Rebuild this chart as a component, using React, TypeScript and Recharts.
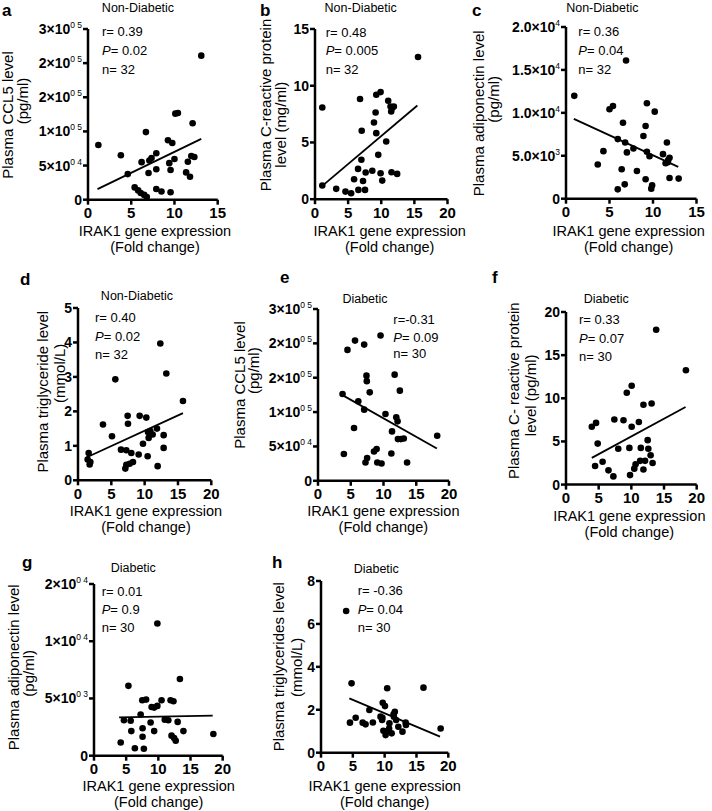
import React from "react";
import { ScatterChart, Scatter, XAxis, YAxis, ReferenceLine } from "recharts";

const FONT = '"Liberation Sans", Arial, sans-serif';

// ---- Non-diabetic panels (a-d) ----
const aX = [1.2, 3.8, 4.6, 6.2, 6.7, 7.1, 7.35, 7.9, 7.0, 7.9, 9.25, 9.75, 9.4, 10.0, 9.55, 10.1, 10.4, 12.1, 11.55, 11.95, 12.3, 11.35, 11.8, 13.1, 5.4, 5.8, 6.1, 6.5, 6.8, 7.9, 8.5, 9.55];
const aY = [80000, 65000, 37500, 55000, 99000, 57500, 61000, 68000, 39000, 44500, 87000, 83000, 53500, 59500, 43500, 126000, 127000, 112000, 55500, 64000, 62500, 40000, 33500, 211000, 18000, 13600, 9800, 7000, 4000, 15700, 12000, 11000];
const aFit = [[1.1, 15500], [13.1, 89000]];

const bX = [1.1, 1.1, 3.2, 4.6, 5.45, 6.55, 7.55, 5.9, 7.25, 6.5, 7.65, 8.65, 9.9, 10.15, 11.55, 12.4, 7.0, 9.55, 10.75, 7.05, 9.25, 8.9, 9.15, 6.8, 9.25, 9.9, 11.05, 11.4, 11.65, 11.9, 11.5, 15.55];
const bY = [8.08, 1.2, 0.91, 0.67, 0.53, 0.82, 0.82, 1.76, 1.6, 2.67, 2.35, 2.5, 2.29, 1.64, 2.38, 2.23, 3.47, 3.91, 5.08, 6.03, 5.82, 6.76, 7.64, 8.83, 9.2, 9.44, 8.68, 8.17, 8.03, 8.17, 7.73, 12.53];
const bFit = [[1.1, 1.17], [15.45, 8.26]];

const cX = [0.95, 5.0, 5.4, 9.3, 10.2, 6.55, 9.15, 8.9, 5.95, 6.8, 11.6, 7.75, 7.0, 4.3, 9.3, 9.6, 11.15, 11.9, 11.45, 11.7, 3.65, 6.4, 8.15, 9.15, 11.9, 12.95, 6.75, 5.95, 9.9, 9.8, 6.9, 11.75];
const cY = [11980, 10420, 10800, 11120, 10140, 8850, 8470, 7300, 6940, 6550, 6550, 5850, 5390, 5540, 5460, 4950, 5190, 4760, 4130, 4240, 3980, 3430, 3230, 2260, 2410, 2340, 1670, 1090, 1560, 1170, 16100, 4500];
const cFit = [[0.9, 9300], [12.9, 3700]];

const dX = [1.6, 1.45, 1.75, 1.85, 3.75, 5.1, 5.6, 6.45, 7.25, 7.45, 7.5, 8.0, 7.1, 7.25, 7.75, 8.25, 9.1, 9.25, 10.25, 9.75, 10.45, 10.6, 10.85, 11.2, 11.85, 11.95, 12.35, 12.85, 12.85, 13.25, 15.75, 10.5];
const dY = [0.79, 0.6, 0.46, 0.53, 1.62, 1.28, 2.93, 0.89, 0.87, 1.87, 1.64, 0.79, 0.34, 0.45, 0.48, 0.53, 0.75, 1.87, 1.82, 1.06, 0.7, 1.23, 1.43, 1.33, 1.5, 0.41, 3.97, 1.31, 0.94, 3.1, 2.3, 1.4];
const dFit = [[1.25, 0.66], [15.75, 1.95]];

// ---- Diabetic panels (e-h) ----
const eX = [3.95, 3.75, 4.5, 5.65, 7.05, 9.55, 5.5, 6.15, 7.05, 7.4, 7.45, 7.9, 11.7, 12.5, 10.3, 11.95, 12.15, 11.3, 12.2, 12.65, 13.1, 18.2, 8.55, 8.95, 7.5, 7.25, 9.05, 9.7, 11.2, 13.6];
const eY = [38900, 126400, 190500, 204000, 198200, 211400, 76800, 115600, 103500, 153000, 145000, 128700, 154500, 131200, 97200, 92300, 86500, 71900, 60700, 60700, 61500, 65600, 42700, 46200, 33100, 26700, 26700, 25200, 39800, 26700];
const eFit = [[3.6, 125400], [18.15, 47100]];

const fX = [3.95, 4.6, 4.85, 4.45, 5.6, 6.5, 7.25, 7.4, 8.0, 8.8, 9.3, 10.05, 9.7, 9.8, 10.05, 10.45, 10.65, 11.15, 11.45, 11.35, 11.85, 11.85, 12.1, 12.5, 12.6, 12.95, 13.1, 13.25, 13.8, 18.35];
const fY = [6.7, 7.15, 4.75, 2.15, 2.65, 1.65, 0.95, 7.55, 4.15, 7.45, 10.65, 11.45, 4.25, 1.1, 6.7, 1.85, 2.35, 7.25, 4.25, 2.75, 9.25, 1.75, 2.75, 5.15, 4.15, 3.4, 9.4, 2.5, 17.95, 13.25];
const fFit = [[3.95, 3.1], [18.3, 9.0]];

const gX = [4.15, 5.35, 4.65, 5.7, 5.8, 6.35, 7.25, 7.5, 8.1, 7.55, 7.55, 7.75, 8.8, 9.35, 9.85, 9.35, 9.85, 10.5, 11.55, 11.9, 12.35, 12.05, 12.45, 12.7, 13.0, 13.35, 13.9, 18.55, 11.0, 8.95];
const gY = [1150, 6100, 3100, 3050, 2150, 650, 3600, 4850, 4900, 2400, 1650, 600, 2900, 4200, 4350, 2150, 11550, 4850, 3100, 4850, 4750, 1750, 1550, 1300, 2950, 6700, 2150, 1900, 3150, 4250];
const gFit = [[3.9, 3350], [18.45, 3500]];

const hX = [3.95, 4.55, 4.8, 5.45, 6.55, 7.0, 7.6, 8.15, 9.35, 9.6, 9.7, 10.05, 9.8, 10.15, 10.3, 10.4, 10.7, 11.1, 11.45, 11.6, 11.8, 12.15, 12.8, 13.3, 16.1, 18.8, 11.4, 9.65, 10.75, 13.35];
const hY = [6.6, 1.4, 3.23, 1.63, 1.4, 1.32, 1.99, 1.41, 1.68, 1.52, 2.33, 2.17, 1.02, 0.82, 0.98, 3.0, 1.13, 0.9, 1.68, 1.91, 1.52, 1.21, 0.98, 1.4, 3.03, 1.13, 1.79, 1.63, 1.37, 1.29];
const hFit = [[4.45, 2.53], [18.7, 0.75]];

// ---- ticks ----
const xTicks15 = [0, 5, 10, 15];
const xTicks20 = [0, 5, 10, 15, 20];
const ccl5Ticks = [0, 50000, 100000, 150000, 200000, 250000];
const ccl5Labels = [["0", ""], ["5×10", "0 4"], ["1×10", "0 5"], ["2×10", "0 5"], ["2×10", "0 5"], ["3×10", "0 5"]];
const crpTicksND = [0, 5, 10, 15];
const adipoTicksND = [0, 5000, 10000, 15000, 20000];
const adipoLabelsND = [["0", ""], ["5.0×10", "3"], ["1.0×10", "4"], ["1.5×10", "4"], ["2.0×10", "4"]];
const tgTicksND = [0, 1, 2, 3, 4, 5];
const crpTicksD = [0, 5, 10, 15, 20];
const adipoTicksD = [0, 5000, 10000, 15000];
const adipoLabelsD = [["0", ""], ["5×10", "0 3"], ["1×10", "0 4"], ["2×10", "0 4"]];
const tgTicksD = [0, 2, 4, 6, 8];

const toPoints = (xs: number[], ys: number[]) => xs.map((x, i) => ({ x, y: ys[i] }));

const makeYTick = (ticks: number[], labels?: string[][]) => (props: any) => {
  const { x, y, payload } = props;
  const i = ticks.indexOf(payload.value);
  const [base, sup] = labels ? labels[i] : [String(payload.value), ""];
  return (
    <text x={x} y={y} dy={5} textAnchor="end" fontSize={14} fontWeight="bold" fill="#000" fontFamily={FONT}>
      {base}
      {sup ? <tspan dy={-6} fontSize={8.5} fontWeight="normal">{sup}</tspan> : null}
    </text>
  );
};

const axisStyle = { stroke: "#000", strokeWidth: 2.5 };

interface PanelProps {
  L: number; T: number; R: number; B: number;
  xs: number[]; ys: number[]; fit: number[][];
  xTicks: number[]; yTicks: number[]; yLabels?: string[][];
}

const Panel: React.FC<PanelProps> = ({ L, T, R, B, xs, ys, fit, xTicks, yTicks, yLabels }) => {
  const data = toPoints(xs, ys);
  return (
    <div style={{ position: "absolute", left: L - 70, top: T - 10 }}>
      <ScatterChart width={R - L + 80} height={B - T + 35} margin={{ top: 10, right: 10, bottom: 0, left: 0 }}>
        <XAxis type="number" dataKey="x" domain={[xTicks[0], xTicks[xTicks.length - 1]]} ticks={xTicks} interval={0}
          allowDataOverflow height={25} axisLine={axisStyle} tickLine={axisStyle} tickSize={5} tickMargin={3}
          tick={{ fill: "#000", fontSize: 15, fontWeight: "bold", fontFamily: FONT }} />
        <YAxis type="number" dataKey="y" domain={[yTicks[0], yTicks[yTicks.length - 1]]} ticks={yTicks} interval={0}
          allowDataOverflow width={70} axisLine={axisStyle} tickLine={axisStyle} tickSize={5} tickMargin={1}
          tick={makeYTick(yTicks, yLabels)} />
        <ReferenceLine segment={[{ x: fit[0][0], y: fit[0][1] }, { x: fit[1][0], y: fit[1][1] }]} stroke="#000" strokeWidth={1.8} />
        <Scatter data={data} fill="#000" isAnimationActive={false}
          shape={(p: any) => <circle cx={p.cx} cy={p.cy} r={3.3} fill="#000" />} />
      </ScatterChart>
    </div>
  );
};

// text layout for every panel
const labels = [
  { letter: "a", lx: 2, ly: 16, title: "Non-Diabetic", tx: 138, ty: 12, stats: ["r= 0.39", "0.02", "n= 32"], sx: 102, sy: [36, 55, 74],
    y1: "Plasma CCL5 level", y1x: 8, y1y: 115, y2: "(pg/ml)", y2x: 22.7, y2y: 101, xc: 155, xb: 236 },
  { letter: "b", lx: 260, ly: 16, title: "Non-Diabetic", tx: 360.7, ty: 12, stats: ["r= 0.48", "0.005", "n= 32"], sx: 325.7, sy: [36.7, 55, 74],
    y1: "Plasma C-reactive protein", y1x: 265.7, y1y: 105, y2: "level (mg/ml)", y2x: 280.7, y2y: 124.7, xc: 389.7, xb: 236 },
  { letter: "c", lx: 472, ly: 16, title: "Non-Diabetic", tx: 602.3, ty: 12, stats: ["r= 0.36", "0.04", "n= 32"], sx: 578.3, sy: [36, 55, 74],
    y1: "Plasma adiponectin level", y1x: 479, y1y: 113.3, y2: "(pg/ml)", y2x: 493.3, y2y: 99.3, xc: 628.7, xb: 236 },
  { letter: "d", lx: 20, ly: 285, title: "Non-Diabetic", tx: 137, ty: 300, stats: ["r= 0.40", "0.02", "n= 32"], sx: 95, sy: [321.7, 340.7, 359],
    y1: "Plasma triglyceride level", y1x: 42.7, y1y: 391.7, y2: "(mmol/L)", y2x: 60, y2y: 373.3, xc: 146, xb: 516 },
  { letter: "e", lx: 280, ly: 283.3, title: "Diabetic", tx: 365, ty: 302.7, stats: ["r=-0.31", "0.09", "n= 30"], sx: 393.3, sy: [324.3, 341.7, 358.3],
    y1: "Plasma CCL5 level", y1x: 240, y1y: 385, y2: "(pg/ml)", y2x: 254, y2y: 370.7, xc: 383.3, xb: 516 },
  { letter: "f", lx: 492, ly: 283.3, title: "Diabetic", tx: 606.3, ty: 302.7, stats: ["r= 0.33", "0.07", "n= 30"], sx: 579, sy: [324.3, 342.7, 361],
    y1: "Plasma C- reactive protein", y1x: 513.3, y1y: 390.7, y2: "level (pg/ml)", y2x: 530.7, y2y: 395.3, xc: 629.3, xb: 521 },
  { letter: "g", lx: 22, ly: 567.7, title: "Diabetic", tx: 133.3, ty: 571.7, stats: ["r= 0.01", "0.9", "n= 30"], sx: 101.7, sy: [595.7, 614, 632.3],
    y1: "Plasma adiponectin level", y1x: 13.3, y1y: 667.3, y2: "(pg/ml)", y2x: 28.3, y2y: 673.3, xc: 158.7, xb: 791 },
  { letter: "h", lx: 272, ly: 567.7, title: "Diabetic", tx: 376.3, ty: 572.7, stats: ["r= -0.36", "0.04", "n= 30"], sx: 357.7, sy: [595, 614, 632.3],
    y1: "Plasma triglycerides level", y1x: 278.3, y1y: 666.7, y2: "(mmol/L)", y2x: 296.7, y2y: 667.3, xc: 384.7, xb: 791 },
];

const Rot: React.FC<{ x: number; y: number; text: string }> = ({ x, y, text }) => (
  <text x={x} y={y} dy="0.35em" textAnchor="middle" fontSize={15} transform={`rotate(-90 ${x} ${y})`}>{text}</text>
);

const App: React.FC = () => {
  return (
    <div style={{ position: "absolute", left: 0, top: 0, width: 712, height: 811, background: "#fff", fontFamily: FONT, overflow: "hidden" }}>
      <Panel L={88.3} T={29.3} R={218} B={200} xs={aX} ys={aY} fit={aFit} xTicks={xTicks15} yTicks={ccl5Ticks} yLabels={ccl5Labels} />
      <Panel L={314.5} T={29.3} R={447} B={199.5} xs={bX} ys={bY} fit={bFit} xTicks={xTicks20} yTicks={crpTicksND} />
      <Panel L={566} T={27.3} R={696.5} B={199} xs={cX} ys={cY} fit={cFit} xTicks={xTicks15} yTicks={adipoTicksND} yLabels={adipoLabelsND} />
      <Panel L={77.7} T={307.7} R={211} B={480} xs={dX} ys={dY} fit={dFit} xTicks={xTicks20} yTicks={tgTicksND} />
      <Panel L={318} T={308.5} R={449} B={480.3} xs={eX} ys={eY} fit={eFit} xTicks={xTicks20} yTicks={ccl5Ticks} yLabels={ccl5Labels} />
      <Panel L={566} T={311.7} R={696.7} B={484.3} xs={fX} ys={fY} fit={fFit} xTicks={xTicks20} yTicks={crpTicksD} />
      <Panel L={94} T={584} R={222.7} B={755.7} xs={gX} ys={gY} fit={gFit} xTicks={xTicks20} yTicks={adipoTicksD} yLabels={adipoLabelsD} />
      <Panel L={321} T={581} R={448.3} B={752.7} xs={hX} ys={hY} fit={hFit} xTicks={xTicks20} yTicks={tgTicksD} />
      <svg width={712} height={811} style={{ position: "absolute", left: 0, top: 0, pointerEvents: "none" }} fontFamily={FONT} fill="#000">
        {labels.map((p) => (
          <g key={p.letter}>
            <text x={p.lx} y={p.ly} fontSize={17} fontWeight="bold">{p.letter}</text>
            <text x={p.tx} y={p.ty} fontSize={12.5} textAnchor="middle">{p.title}</text>
            <text x={p.sx} y={p.sy[0]} fontSize={13}>{p.stats[0]}</text>
            <text x={p.sx} y={p.sy[1]} fontSize={13}><tspan fontStyle="italic">P</tspan>= {p.stats[1]}</text>
            <text x={p.sx} y={p.sy[2]} fontSize={13}>{p.stats[2]}</text>
            <Rot x={p.y1x} y={p.y1y} text={p.y1} />
            <Rot x={p.y2x} y={p.y2y} text={p.y2} />
            <text x={p.xc} y={p.xb} fontSize={14.5} textAnchor="middle">IRAK1 gene expression</text>
            <text x={p.xc} y={p.xb + 16} fontSize={14.5} textAnchor="middle">(Fold change)</text>
          </g>
        ))}
      </svg>
    </div>
  );
};

export default App;
